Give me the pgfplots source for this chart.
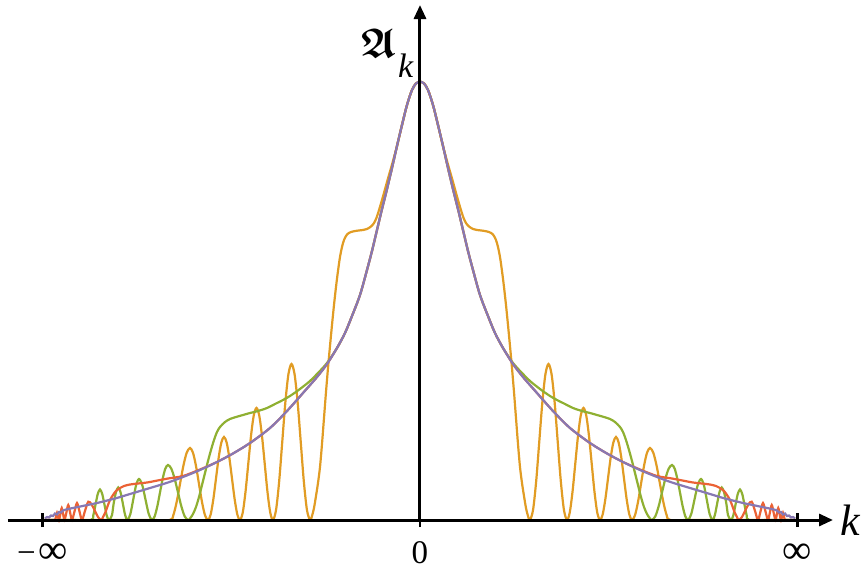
\documentclass[border=0pt]{standalone}
\usepackage{pgfplots}
\pgfplotsset{compat=1.18}
\usetikzlibrary{arrows.meta}
\usepackage{amsfonts}
\usepackage{fontspec}
\setmainfont{Liberation Serif}
\definecolor{mOrange}{rgb}{0.881,0.611,0.142}
\definecolor{mGreen}{rgb}{0.560,0.692,0.195}
\definecolor{mRed}{rgb}{0.923,0.386,0.209}
\definecolor{mPurple}{rgb}{0.528,0.471,0.701}
\newcommand{\infsize}{\fontsize{20.5}{22}\selectfont}
\begin{document}
\begin{tikzpicture}
\useasboundingbox (-210pt,-24.5pt) rectangle (221.5pt,260pt);
\begin{axis}[
  at={(0,0)}, anchor=origin,
  x=0.5pt, y=0.5pt,
  xmin=-412, xmax=413, ymin=0, ymax=515,
  axis lines=middle,
  axis line style={line width=1.5pt, black},
  every inner x axis line/.append style={-{Triangle[length=7pt,width=6pt]}},
  every inner y axis line/.append style={-{Triangle[length=7pt,width=6pt]}},
  axis on top,
  clip=false,
  hide obscured x ticks=false,
  xtick={-377.5,0,377.5},
  xticklabels={{−\hspace{1.5pt}{\infsize∞}},0,{\infsize∞}},
  ytick=\empty,
  tick align=center,
  major tick length=7pt,
  xtick style={line width=1.2pt, black},
  xticklabel style={font=\fontsize{16.5}{18}\selectfont, anchor=north, inner sep=0pt, text height=12pt, text depth=0pt, yshift=-6pt},
  every axis plot/.append style={line width=1.1pt, smooth, tension=0.5, mark=none},
]
% orange
\addplot[mOrange] coordinates {
(-376,0) (-320,0) (-270,0) (-250,0)
(-246.67,4.8) (-243.33,18) (-240,36) (-236.67,54) (-233.33,67.2) (-230,72) (-227,67.2) (-224,54) (-221,36) (-218,18) (-215,4.8) (-212,0)
(-209.33,5.5) (-206.67,20.75) (-204,41.5) (-201.33,62.25) (-198.67,77.4) (-196,83) (-193.33,77.4) (-190.67,62.25) (-188,41.5) (-185.33,20.75) (-182.67,5.5) (-180,0)
(-177.25,7.5) (-174.5,28) (-171.75,56) (-169,84) (-166.25,104.5) (-163.5,112) (-160.75,104.5) (-158,84) (-155.25,56) (-152.5,28) (-149.75,7.5) (-147,0)
(-143.9,10.4) (-140.8,39) (-137.75,78) (-134.7,117) (-131.6,145.6) (-128.5,156) (-125.4,145.6) (-122.3,117) (-119.25,78) (-116.2,39) (-113.1,10.4) (-110,0)
(-108,4) (-106,12) (-104,24) (-102,37) (-100,53) (-98,76) (-96,102) (-94,128) (-92,152) (-90,174) (-88,195) (-86,215) (-84,233) (-82,249) (-80,263) (-78,273) (-76,280) (-73,285.5) (-69,288) (-63,289.3) (-57,290) (-53,291) (-49,293.5) (-46,297) (-43,303.5) (-38,320) (-33,338) (-30,348.5) (-27,359) (-23,374) (-18,395) (-13,415) (-8,430) (-4,436.5) (0,438.3)
(4,436.5) (8,430) (13,415) (18,395) (23,374) (27,359) (30,348.5) (33,338) (38,320) (43,303.5) (46,297) (49,293.5) (53,291) (57,290) (63,289.3) (69,288) (73,285.5) (76,280) (78,273) (80,263) (82,249) (84,233) (86,215) (88,195) (90,174) (92,152) (94,128) (96,102) (98,76) (100,53) (102,37) (104,24) (106,12) (108,4)
(110,0) (113.1,10.4) (116.2,39) (119.25,78) (122.3,117) (125.4,145.6) (128.5,156) (131.6,145.6) (134.7,117) (137.75,78) (140.8,39) (143.9,10.4)
(147,0) (149.75,7.5) (152.5,28) (155.25,56) (158,84) (160.75,104.5) (163.5,112) (166.25,104.5) (169,84) (171.75,56) (174.5,28) (177.25,7.5)
(180,0) (182.67,5.5) (185.33,20.75) (188,41.5) (190.67,62.25) (193.33,77.4) (196,83) (198.67,77.4) (201.33,62.25) (204,41.5) (206.67,20.75) (209.33,5.5)
(212,0) (215,4.8) (218,18) (221,36) (224,54) (227,67.2) (230,72) (233.33,67.2) (236.67,54) (240,36) (243.33,18) (246.67,4.8)
(250,0) (270,0) (320,0) (376,0)
};
% green
\addplot[mGreen] coordinates {
(-376,0) (-350,0) (-329,0)
(-326.75,4.45) (-324.5,15.25) (-322.25,26) (-320,30.5) (-317.75,26) (-315.5,15.25) (-313.25,4.45) (-311,0)
(-308.06,4.75) (-306.375,16.25) (-304.06,27.75) (-301.75,32.5) (-299.44,27.75) (-297.125,16.25) (-294.81,4.75) (-292.5,0)
(-289.625,6) (-286.75,20.5) (-283.875,35) (-281,41) (-277.75,35) (-274.5,20.5) (-271.25,6) (-268,0)
(-265.33,3.7) (-262.67,13.75) (-260,27.5) (-257.33,41.25) (-254.67,51.3) (-252,55) (-248.67,51.3) (-245.33,41.25) (-242,27.5) (-238.67,13.75) (-235.33,3.7) (-232,0)
(-230,1.5) (-227,6) (-224,13) (-221,23) (-218,35) (-215,47) (-212,59) (-209,70) (-206,80) (-203,88) (-200,93) (-195,98) (-190,101) (-184,103) (-177,105) (-170,107) (-162,109) (-153,112) (-145,116) (-137,120) (-130,124) (-120,131) (-110,139) (-103,146) (-93,157) (-83,172) (-75,187) (-68,204) (-60,225) (-53,250) (-48,269) (-43,290) (-38,311) (-33,331) (-28,352) (-23,374) (-18,395) (-13,415) (-8,430) (-4,436.5) (0,438.3)
(4,436.5) (8,430) (13,415) (18,395) (23,374) (28,352) (33,331) (38,311) (43,290) (48,269) (53,250) (60,225) (68,204) (75,187) (83,172) (93,157) (103,146) (110,139) (120,131) (130,124) (137,120) (145,116) (153,112) (162,109) (170,107) (177,105) (184,103) (190,101) (195,98) (200,93) (203,88) (206,80) (209,70) (212,59) (215,47) (218,35) (221,23) (224,13) (227,6) (230,1.5)
(232,0) (235.33,3.7) (238.67,13.75) (242,27.5) (245.33,41.25) (248.67,51.3) (252,55) (254.67,51.3) (257.33,41.25) (260,27.5) (262.67,13.75) (265.33,3.7)
(268,0) (271.25,6) (274.5,20.5) (277.75,35) (281,41) (283.875,35) (286.75,20.5) (289.625,6)
(292.5,0) (294.81,4.75) (297.125,16.25) (299.44,27.75) (301.75,32.5) (304.06,27.75) (306.375,16.25) (308.06,4.75)
(311,0) (313.25,4.45) (315.5,15.25) (317.75,26) (320,30.5) (322.25,26) (324.5,15.25) (326.75,4.45)
(329,0) (350,0) (376,0)
};
% red
\addplot[mRed] coordinates {
(-376,0) (-367,0) (-365,0) (-364,3.5) (-363,7) (-362,3.5) (-361,0) (-359.6,6) (-358.25,12) (-356.9,6) (-355.5,0) (-353.6,7.5) (-351.75,15) (-349.9,7.5) (-348,0) (-345.5,8.5) (-343,17) (-340.5,8.5) (-338,0) (-335,9.15) (-331.7,18.3) (-328.4,15.6) (-325.1,9.15) (-321.8,2.7) (-318.5,0)
(-317,3) (-314.5,8) (-312,15) (-310,20) (-307,25) (-304,29) (-300,32) (-296,34) (-290,35.5) (-282,36.5) (-273,37.5) (-265,39) (-252,41.5) (-237,44) (-220,50.5) (-203,58) (-187,66.5) (-170,77) (-150,92) (-133,109) (-117,127) (-103,143) (-93,156) (-83,172) (-75,187) (-68,204) (-60,225) (-53,250) (-48,269) (-43,290) (-38,311) (-33,331) (-28,352) (-23,374) (-18,395) (-13,415) (-8,430) (-4,436.5) (0,438.3)
(4,436.5) (8,430) (13,415) (18,395) (23,374) (28,352) (33,331) (38,311) (43,290) (48,269) (53,250) (60,225) (68,204) (75,187) (83,172) (93,156) (103,143) (117,127) (133,109) (150,92) (170,77) (187,66.5) (203,58) (220,50.5) (237,44) (252,41.5) (265,39) (273,37.5) (282,36.5) (290,35.5) (296,34) (300,32) (304,29) (307,25) (310,20) (312,15) (314.5,8) (317,3)
(318.5,0) (321.8,2.7) (325.1,9.15) (328.4,15.6) (331.7,18.3) (335,9.15) (338,0) (340.5,8.5) (343,17) (345.5,8.5) (348,0) (349.9,7.5) (351.75,15) (353.6,7.5) (355.5,0) (356.9,6) (358.25,12) (359.6,6) (361,0) (362,3.5) (363,7) (364,3.5) (365,0) (367,0) (376,0)
};
% purple
\addplot[mPurple] coordinates {
(-375,1.5) (-373,3) (-371,2.5) (-369,4.5) (-367,4) (-365,6.5) (-363,5.5) (-361,8) (-359,7.5) (-357,9.5) (-354,10.5) (-347,12) (-335,14.5) (-323,17) (-305,21.5) (-290,26) (-270,32) (-252,37.5) (-237,43) (-220,50) (-203,58) (-187,66.5) (-170,77) (-150,92) (-133,109) (-117,127) (-103,143) (-93,156) (-83,172) (-75,187) (-68,204) (-60,225) (-53,250) (-48,269) (-43,290) (-38,311) (-33,331) (-28,352) (-23,374) (-18,395) (-13,415) (-8,430) (-4,436.5) (0,438.3)
(4,436.5) (8,430) (13,415) (18,395) (23,374) (28,352) (33,331) (38,311) (43,290) (48,269) (53,250) (60,225) (68,204) (75,187) (83,172) (93,156) (103,143) (117,127) (133,109) (150,92) (170,77) (187,66.5) (203,58) (220,50) (237,43) (252,37.5) (270,32) (290,26) (305,21.5) (323,17) (335,14.5) (347,12) (354,10.5) (357,9.5) (359,7.5) (361,8) (363,5.5) (365,6.5) (367,4) (369,4.5) (371,2.5) (373,3) (375,1.5)
};
\node[anchor=base west, inner sep=0pt, font=\fontsize{22}{26}\selectfont] at (axis cs:420,-15) {\textit{k}};
\node[anchor=base east, inner sep=0pt] at (axis cs:-6,463) {{\fontsize{20.74}{26}\selectfont\boldmath$\mathfrak{A}$}\hspace{1pt}\raisebox{-10.5pt}{\fontsize{17}{20}\selectfont\textit{k}}};
\end{axis}
\end{tikzpicture}
\end{document}
